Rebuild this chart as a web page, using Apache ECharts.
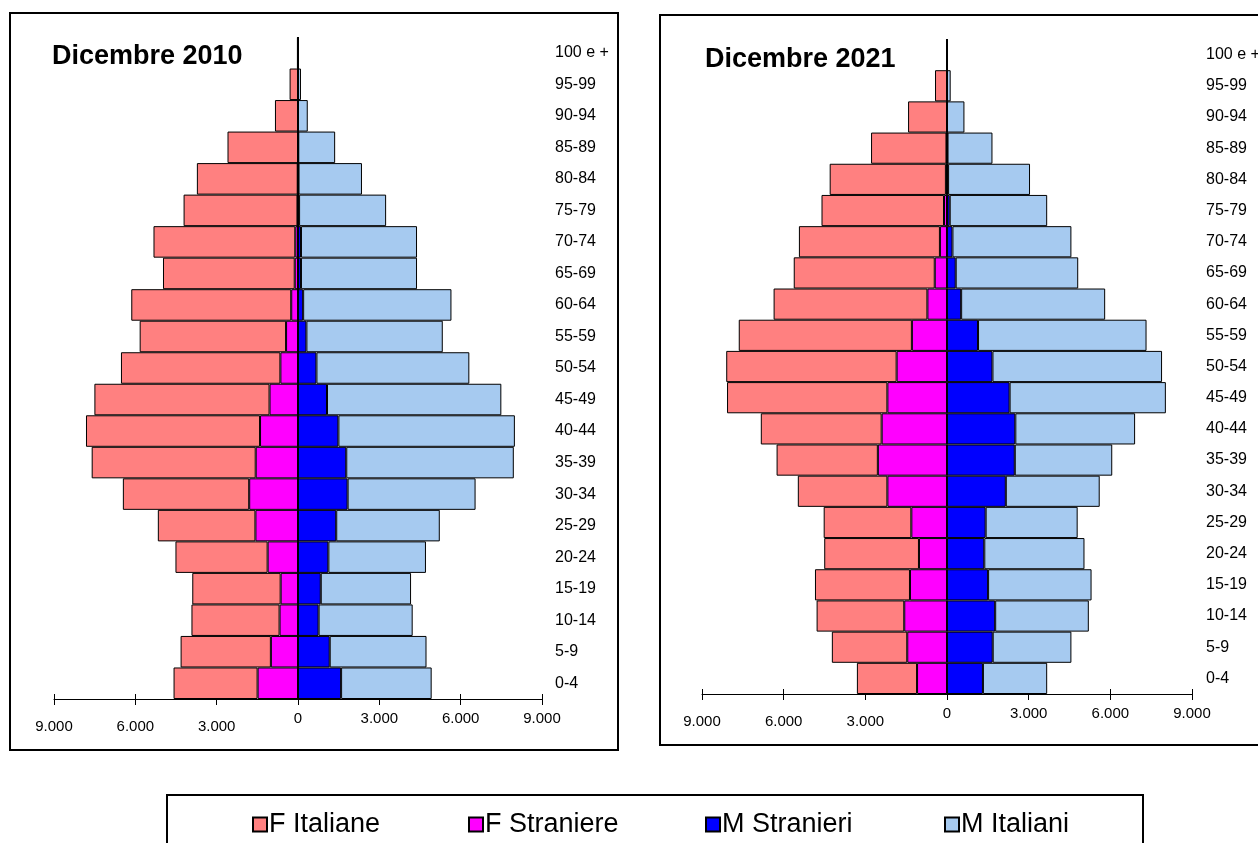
<!DOCTYPE html>
<html>
<head>
<meta charset="utf-8">
<script src="https://cdn.jsdelivr.net/npm/echarts@6/dist/echarts.min.js"></script>
<style>
html,body{margin:0;padding:0;background:#fff;}
#c{width:1258px;height:843px;}
</style>
</head>
<body>
<div id="c"></div>
<script>
// Age classes (bottom to top)
const categories = ['0-4','5-9','10-14','15-19','20-24','25-29','30-34','35-39','40-44','45-49','50-54','55-59','60-64','65-69','70-74','75-79','80-84','85-89','90-94','95-99','100 e +'];
const tickValues = [-9000, -6000, -3000, 0, 3000, 6000, 9000];
const titles = ['Dicembre 2010', 'Dicembre 2021'];
const seriesNames = ['F Italiane', 'F Straniere', 'M Stranieri', 'M Italiani'];

// Dicembre 2010
const fItaliane2010  = [3100, 3330, 3250, 3260, 3400, 3600, 4660, 6050, 6420, 6460, 5880, 5400, 5900, 4860, 5230, 4200, 3720, 2600, 850, 310, 40];
const fStraniere2010 = [1490, 1000, 680, 640, 1120, 1570, 1800, 1560, 1400, 1050, 650, 440, 250, 120, 100, 20, 10, 0, 0, 0, 0];
const mStranieri2010 = [1590, 1170, 760, 840, 1120, 1410, 1830, 1780, 1490, 1070, 680, 310, 190, 110, 110, 40, 20, 10, 0, 0, 0];
const mItaliani2010  = [3340, 3570, 3470, 3330, 3600, 3820, 4720, 6180, 6510, 6430, 5640, 5030, 5470, 4280, 4280, 3210, 2340, 1360, 360, 110, 10];

// Dicembre 2021
const fItaliane2021  = [2210, 2770, 3220, 3490, 3480, 3220, 3290, 3720, 4440, 5890, 6260, 6360, 5650, 5180, 5180, 4500, 4270, 2770, 1430, 440, 30];
const fStraniere2021 = [1100, 1460, 1570, 1360, 1030, 1310, 2190, 2540, 2400, 2190, 1850, 1290, 720, 450, 260, 110, 40, 20, 0, 0, 0];
const mStranieri2021 = [1320, 1680, 1770, 1510, 1370, 1420, 2160, 2490, 2510, 2300, 1670, 1140, 520, 320, 200, 100, 40, 20, 0, 0, 0];
const mItaliani2021  = [2360, 2890, 3440, 3800, 3680, 3380, 3450, 3580, 4400, 5740, 6230, 6190, 5290, 4500, 4370, 3580, 3010, 1650, 640, 135, 5];

const colors = {'F Italiane':'#FF8080','F Straniere':'#FF00FF','M Stranieri':'#0000FF','M Italiani':'#A6CAF0'};
const FONT = '"Liberation Sans", Arial, sans-serif';

function fmt(v){
  const s = String(Math.abs(v)).replace(/\B(?=(\d{3})+(?!\d))/g, '.');
  return v < 0 ? '{neg|' + s + '}' : s;
}

const grids = [
  {left: 54, width: 488, top: 37, height: 662, outerBoundsMode: 'none', containLabel: false},
  {left: 702, width: 490, top: 39, height: 655, outerBoundsMode: 'none', containLabel: false}
];

const xAxes = [], yAxes = [], series = [];
const yearData = [
  {fi: fItaliane2010, fs: fStraniere2010, ms: mStranieri2010, mi: mItaliani2010, lw: 2, lm: 13},
  {fi: fItaliane2021, fs: fStraniere2021, ms: mStranieri2021, mi: mItaliani2021, lw: 1.5, lm: 14}
];

yearData.forEach((d, g) => {
  xAxes.push({
    type: 'value', gridIndex: g, min: tickValues[0], max: tickValues[tickValues.length-1], interval: 3000,
    splitLine: {show: false},
    axisLine: {show: true, onZero: false, lineStyle: {color: '#000', width: 1}},
    axisTick: {show: true, length: 6, lineStyle: {color: '#000'}},
    axisLabel: {color: '#000', fontSize: 15, fontFamily: FONT, margin: 12, formatter: fmt,
      rich: {neg: {fontSize: 15, fontFamily: FONT, color: '#000', padding: [8, 0, 0, 0]}}}
  });
  xAxes.push({
    type: 'value', gridIndex: g, min: tickValues[0], max: tickValues[tickValues.length-1], interval: 3000,
    position: 'bottom',
    splitLine: {show: false},
    axisLine: {show: false, onZero: false},
    axisTick: {show: true, inside: true, length: 5, lineStyle: {color: '#000'}},
    axisLabel: {show: false}
  });
  yAxes.push({
    type: 'category', gridIndex: g, data: categories, position: 'right',
    axisLine: {show: false}, axisTick: {show: false}, splitLine: {show: false},
    axisLabel: {color: '#000', fontSize: 16, fontFamily: FONT, margin: d.lm, align: 'left', interval: 0}
  });
  const xi = g * 2;
  const base = {type: 'bar', xAxisIndex: xi, yAxisIndex: g, barCategoryGap: '0%', barGap: '-100%', animation: false};
  series.push(Object.assign({}, base, {name: 'F Straniere', stack: 'F' + g,
    itemStyle: {color: colors['F Straniere'], borderColor: '#000', borderWidth: 1},
    data: d.fs.map(v => -v)}));
  series.push(Object.assign({}, base, {name: 'F Italiane', stack: 'F' + g,
    itemStyle: {color: colors['F Italiane'], borderColor: '#000', borderWidth: 1},
    data: d.fi.map(v => -v)}));
  series.push(Object.assign({}, base, {name: 'M Stranieri', stack: 'M' + g,
    itemStyle: {color: colors['M Stranieri'], borderColor: '#000', borderWidth: 1},
    data: d.ms.slice()}));
  series.push(Object.assign({}, base, {name: 'M Italiani', stack: 'M' + g,
    itemStyle: {color: colors['M Italiani'], borderColor: '#000', borderWidth: 1},
    data: d.mi.slice(),
    markLine: {silent: true, symbol: ['none', 'none'], label: {show: false}, animation: false,
      lineStyle: {color: '#000', width: d.lw, type: 'solid'}, data: [{xAxis: 0}]}}));
});

const legendLeft = [252, 468, 705, 944];
const legends = ['F Italiane', 'F Straniere', 'M Stranieri', 'M Italiani'].map((n, i) => ({
  data: [n], left: legendLeft[i], top: 811, padding: 0, itemWidth: 14, itemHeight: 14, itemGap: 0,
  selectedMode: false, icon: 'rect',
  textStyle: {fontSize: 27, fontFamily: FONT, color: '#000', padding: [0, 0, 0, -3]}
}));

const option = {
  backgroundColor: '#fff',
  animation: false,
  grid: grids,
  xAxis: xAxes,
  yAxis: yAxes,
  legend: legends,
  series: series,
  graphic: [
    {type: 'rect', shape: {x: 10, y: 13, width: 608, height: 737}, style: {fill: 'none', stroke: '#000', lineWidth: 2}, silent: true},
    {type: 'rect', shape: {x: 660, y: 15, width: 620, height: 730}, style: {fill: 'none', stroke: '#000', lineWidth: 2}, silent: true},
    {type: 'rect', shape: {x: 167, y: 795, width: 976, height: 70}, style: {fill: 'none', stroke: '#000', lineWidth: 2}, silent: true},
    {type: 'text', x: 52, y: 57, style: {text: titles[0], font: 'bold 27px ' + FONT, fill: '#000', verticalAlign: 'middle'}},
    {type: 'text', x: 705, y: 60, style: {text: titles[1], font: 'bold 27px ' + FONT, fill: '#000', verticalAlign: 'middle'}}
  ]
};

const chart = echarts.init(document.getElementById('c'), null, {renderer: 'canvas'});
chart.setOption(option);
</script>
</body>
</html>
